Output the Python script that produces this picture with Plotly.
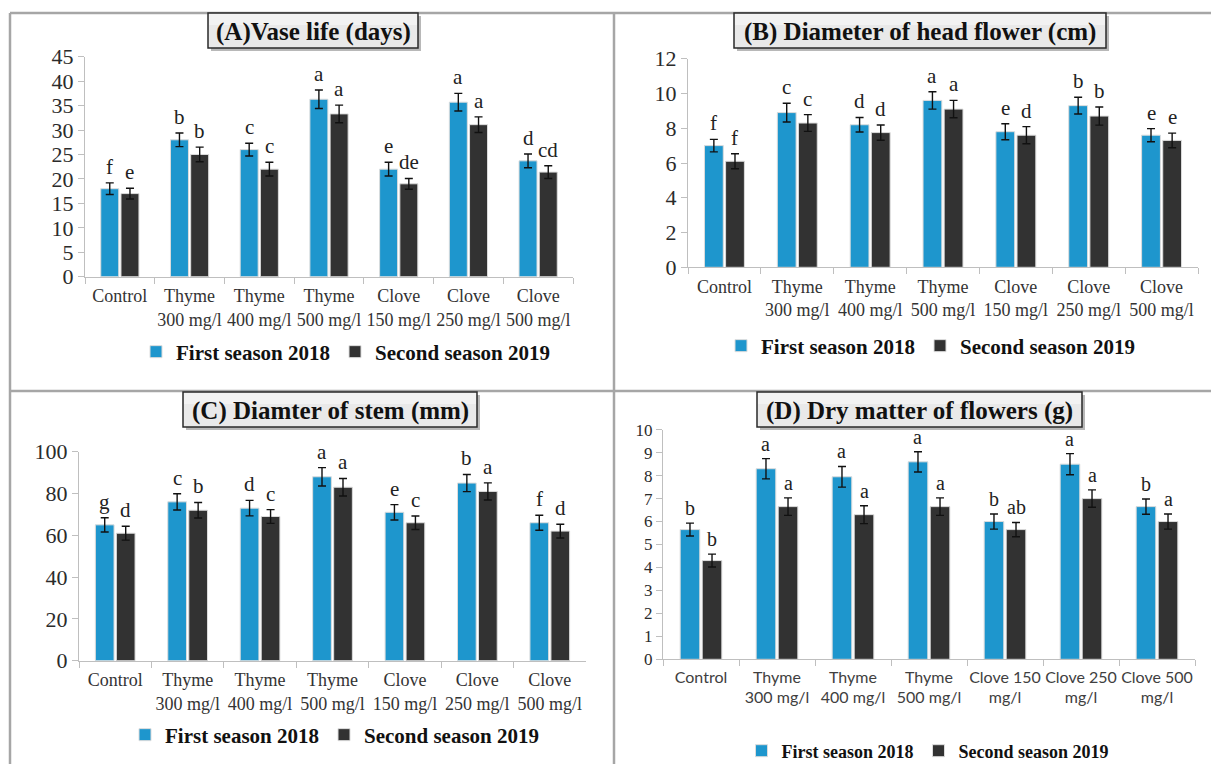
import plotly.graph_objects as go

# ---- data -------------------------------------------------------------
treatments = ["Control", "Thyme<br>300 mg/l", "Thyme<br>400 mg/l", "Thyme<br>500 mg/l",
              "Clove<br>150 mg/l", "Clove<br>250 mg/l", "Clove<br>500 mg/l"]
treatments_d = ["Control", "Thyme<br>300 mg/l", "Thyme<br>400 mg/l", "Thyme<br>500 mg/l",
                "Clove 150<br>mg/l", "Clove 250<br>mg/l", "Clove 500<br>mg/l"]
season_names = ["First season 2018", "Second season 2019"]

# (A) Vase life (days)
vase_2018 = [18.0, 28.0, 26.0, 36.3, 22.0, 35.7, 23.7]
vase_2019 = [17.0, 25.0, 22.0, 33.3, 19.0, 31.1, 21.4]
vase_err_2018 = [1.2, 1.4, 1.3, 1.9, 1.4, 1.8, 1.4]
vase_err_2019 = [1.1, 1.5, 1.4, 1.8, 1.1, 1.6, 1.3]
vase_sig_2018 = ["f", "b", "c", "a", "e", "a", "d"]
vase_sig_2019 = ["e", "b", "c", "a", "de", "a", "cd"]

# (B) Diameter of head flower (cm)
head_2018 = [7.0, 8.9, 8.2, 9.6, 7.8, 9.3, 7.6]
head_2019 = [6.1, 8.3, 7.75, 9.1, 7.6, 8.7, 7.3]
head_err_2018 = [0.36, 0.54, 0.42, 0.50, 0.46, 0.48, 0.38]
head_err_2019 = [0.43, 0.48, 0.44, 0.50, 0.49, 0.52, 0.42]
head_sig_2018 = ["f", "c", "d", "a", "e", "b", "e"]
head_sig_2019 = ["f", "c", "d", "a", "d", "b", "e"]

# (C) Diameter of stem (mm)
stem_2018 = [65, 76, 73, 88, 71, 85, 66]
stem_2019 = [61, 72, 69, 83, 66, 81, 62]
stem_err_2018 = [3.4, 3.9, 3.7, 4.4, 3.7, 4.1, 3.6]
stem_err_2019 = [3.3, 3.7, 3.3, 4.2, 3.2, 4.1, 3.3]
stem_sig_2018 = ["g", "c", "d", "a", "e", "b", "f"]
stem_sig_2019 = ["d", "b", "c", "a", "c", "a", "d"]

# (D) Dry matter of flowers (g)
dry_2018 = [5.65, 8.3, 7.95, 8.6, 6.0, 8.5, 6.65]
dry_2019 = [4.3, 6.65, 6.3, 6.65, 5.65, 7.0, 6.0]
dry_err_2018 = [0.28, 0.44, 0.45, 0.44, 0.33, 0.46, 0.33]
dry_err_2019 = [0.28, 0.38, 0.39, 0.38, 0.31, 0.38, 0.33]
dry_sig_2018 = ["b", "a", "a", "a", "b", "a", "b"]
dry_sig_2019 = ["b", "a", "a", "a", "ab", "a", "a"]

# ---- styling ----------------------------------------------------------
W, H = 1211, 764
BLUE = "#1e96cd"
DARK = "#323232"
AXIS = "#bfbfbf"
SERIF = "Liberation Serif"
BAR_GAP = 0.42
GROUP_GAP = 0.11
HALF_SLOT = (1 - BAR_GAP) / 4   # centre offset of each bar inside a group


def px_x(p):
    return p / W


def px_y(p):
    return 1 - p / H


panels = [
    dict(title="(A)Vase life (days)", cats=treatments, v1=vase_2018, v2=vase_2019,
         e1=vase_err_2018, e2=vase_err_2019, s1=vase_sig_2018, s2=vase_sig_2019,
         ymax=45, dtick=5, xpx=(85, 573), ypx=(276.7, 56.7), box=(208, 13, 418, 48),
         legend_pos=(346, 352), legend_size=21, tick_size=22, cat_font=dict(family=SERIF, size=18, color="#333333"),
         sig_size=21),
    dict(title="(B) Diameter of head flower (cm)", cats=treatments, v1=head_2018, v2=head_2019,
         e1=head_err_2018, e2=head_err_2019, s1=head_sig_2018, s2=head_sig_2019,
         ymax=12, dtick=2, xpx=(688, 1198), ypx=(267.3, 58.7), box=(734, 13, 1106, 48),
         legend_pos=(931, 346), legend_size=21, tick_size=22, cat_font=dict(family=SERIF, size=18, color="#333333"),
         sig_size=21),
    dict(title="(C) Diamter of stem (mm)", cats=treatments, v1=stem_2018, v2=stem_2019,
         e1=stem_err_2018, e2=stem_err_2019, s1=stem_sig_2018, s2=stem_sig_2019,
         ymax=100, dtick=20, xpx=(79, 586), ypx=(660.7, 451.7), box=(183, 392, 477, 427),
         legend_pos=(335, 735), legend_size=21, tick_size=22, cat_font=dict(family=SERIF, size=18, color="#333333"),
         sig_size=21),
    dict(title="(D) Dry matter of flowers (g)", cats=treatments_d, v1=dry_2018, v2=dry_2019,
         e1=dry_err_2018, e2=dry_err_2019, s1=dry_sig_2018, s2=dry_sig_2019,
         ymax=10, dtick=1, xpx=(663, 1195), ypx=(659.3, 429.7), box=(757, 392, 1082, 427),
         legend_pos=(928, 751), legend_size=18, tick_size=17, cat_font=dict(family="Lato", size=16, color="#404040"),
         sig_size=20),
]

fig = go.Figure()
annotations = []
shapes = []
legend_cfg = {}

# panel frames
frame = dict(type="line", xref="paper", yref="paper", line=dict(color="#a6a6a6", width=2.5), layer="below")
shapes.append(dict(frame, x0=px_x(10), x1=px_x(10), y0=px_y(13), y1=px_y(H)))
shapes.append(dict(frame, x0=px_x(614), x1=px_x(614), y0=px_y(13), y1=px_y(H)))
shapes.append(dict(frame, x0=px_x(10), x1=px_x(W), y0=px_y(13), y1=px_y(13)))
shapes.append(dict(frame, x0=px_x(10), x1=px_x(W), y0=px_y(391), y1=px_y(391)))

for k, p in enumerate(panels, start=1):
    xa = "x" if k == 1 else f"x{k}"
    ya = "y" if k == 1 else f"y{k}"
    lg = "legend" if k == 1 else f"legend{k}"

    for name, vals, errs, color in [(season_names[0], p["v1"], p["e1"], BLUE),
                                    (season_names[1], p["v2"], p["e2"], DARK)]:
        fig.add_trace(go.Bar(
            x=p["cats"], y=vals, name=name, xaxis=xa, yaxis=ya, legend=lg,
            marker=dict(color=color, line=dict(color="#dcdcdc", width=1)),
            error_y=dict(type="data", array=errs, color="#111111", thickness=1.4, width=4),
        ))

    # significance letters above each error bar
    for i in range(len(p["cats"])):
        for off, vals, errs, sigs in [(-HALF_SLOT, p["v1"], p["e1"], p["s1"]),
                                      (HALF_SLOT, p["v2"], p["e2"], p["s2"])]:
            annotations.append(dict(
                x=i + off, y=vals[i] + errs[i], xref=xa, yref=ya, text=sigs[i],
                showarrow=False, yanchor="bottom", yshift=2,
                font=dict(family=SERIF, size=p["sig_size"], color="#222222"),
            ))

    # boxed panel title with a drop shadow
    bx0, by0, bx1, by1 = p["box"]
    shapes.append(dict(type="rect", xref="paper", yref="paper",
                       x0=px_x(bx0 + 3), x1=px_x(bx1 + 3), y0=px_y(by1 + 3), y1=px_y(by0 + 3),
                       fillcolor="rgba(0,0,0,0.28)", line=dict(width=0), layer="above"))
    shapes.append(dict(type="rect", xref="paper", yref="paper",
                       x0=px_x(bx0), x1=px_x(bx1), y0=px_y(by1), y1=px_y(by0),
                       fillcolor="#e9e9e9", line=dict(color="#2a2a2a", width=1.5), layer="above"))
    shapes.append(dict(type="rect", xref="paper", yref="paper",
                       x0=px_x(bx0 + 1), x1=px_x(bx1 - 1), y0=px_y(by0 + 12), y1=px_y(by0 + 1),
                       fillcolor="#f2f2f2", line=dict(width=0), layer="above"))
    annotations.append(dict(
        x=px_x((bx0 + bx1) / 2), y=px_y((by0 + by1) / 2 + 1), xref="paper", yref="paper",
        text=p["title"], showarrow=False, xanchor="center", yanchor="middle",
        font=dict(family=SERIF, size=25, color="#111111", weight="bold"),
    ))

    x0, x1 = p["xpx"]
    yb, yt = p["ypx"]
    fig.layout[("xaxis" if k == 1 else f"xaxis{k}")] = dict(
        domain=[px_x(x0), px_x(x1)], anchor=ya, type="category",
        showline=True, linecolor=AXIS, linewidth=1, automargin=False, tickangle=0,
        ticks="outside", tickson="boundaries", ticklen=6, tickcolor=AXIS,
        ticklabelstandoff=3,
        showgrid=False, zeroline=False, tickfont=p["cat_font"], fixedrange=True,
    )
    fig.layout[("yaxis" if k == 1 else f"yaxis{k}")] = dict(
        domain=[px_y(yb), px_y(yt)], anchor=xa, range=[0, p["ymax"]], dtick=p["dtick"],
        showline=True, linecolor=AXIS, linewidth=1, automargin=False,
        ticks="outside", ticklen=6, tickcolor=AXIS,
        showgrid=False, zeroline=False,
        tickfont=dict(family=SERIF, size=p["tick_size"], color="#2b2b2b"),
    )

    lx, ly = p["legend_pos"]
    legend_cfg[lg] = dict(
        orientation="h", x=px_x(lx), y=px_y(ly), xanchor="center", yanchor="middle",
        bgcolor="rgba(0,0,0,0)",
        font=dict(family=SERIF, size=p["legend_size"], color="#111111", weight="bold"),
    )

fig.update_layout(
    width=W, height=H, margin=dict(l=0, r=0, t=0, b=0, autoexpand=False),
    paper_bgcolor="white", plot_bgcolor="white",
    barmode="group", bargap=BAR_GAP, bargroupgap=GROUP_GAP,
    showlegend=True, annotations=annotations, shapes=shapes,
    **legend_cfg,
)

fig.write_html("out.html")
